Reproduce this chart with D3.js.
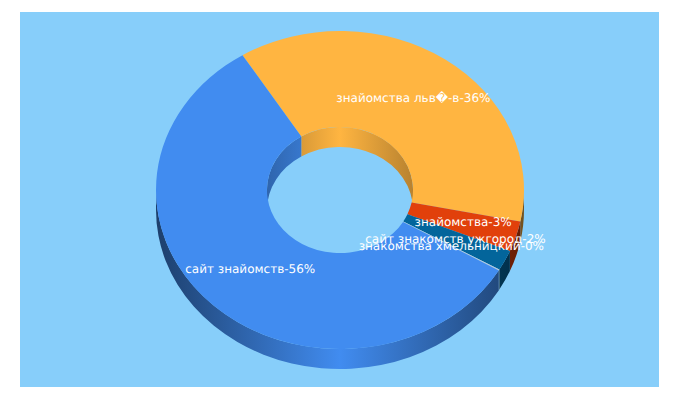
<!DOCTYPE html>
<html>
<head>
<meta charset="utf-8">
<style>
    body { margin: 0; background: #fff; }
    svg { display: block; }
    text { font-family: "DejaVu Sans", sans-serif; font-size: 12px; fill: #fff; text-rendering: geometricPrecision; }
</style>
</head>
<body>
<svg width="680" height="400"></svg>
<script src="https://d3js.org/d3.v7.min.js"></script>
<script>
    var labels = ["знайомства льв\uFFFD-в-36%", "знайомства-3%", "сайт знакомств ужгород-2%", "знакомства хмельницкий-0%", "сайт знайомств-56%"];
    var values = [36, 3, 2, 0.1, 56];
    var colors = ["#ffb541", "#e1400b", "#03659b", "#b8c8d8", "#418cf0"];

    var width = 680, height = 400,
        cx = 340, cy = 190,
        rx = 184, ry = 159,
        holeRatio = 0.397,
        depth = 20,
        startDeg = 328;

    var svg = d3.select("svg");
    svg.append("rect").attr("x", 20).attr("y", 12).attr("width", 639).attr("height", 375).attr("fill", "#87cefa");

    var pie = d3.pie().sort(null)
        .startAngle(startDeg * Math.PI / 180)
        .endAngle((startDeg + 360) * Math.PI / 180);
    var slices = pie(values);
    slices.forEach(function (d, i) { d.color = colors[i]; d.label = labels[i]; });

    // gradients for the side walls, dark at the edges and bright in the middle
    var defs = svg.append("defs");
    function addGradient(id, color, x1, x2, edge) {
        var g = defs.append("linearGradient").attr("id", id)
            .attr("gradientUnits", "userSpaceOnUse")
            .attr("x1", x1).attr("x2", x2).attr("y1", 0).attr("y2", 0);
        var mid = d3.rgb(color), dark = d3.rgb(mid.r * edge, mid.g * edge, mid.b * edge);
        g.append("stop").attr("offset", "0%").attr("stop-color", dark);
        g.append("stop").attr("offset", "50%").attr("stop-color", mid);
        g.append("stop").attr("offset", "100%").attr("stop-color", dark);
    }
    slices.forEach(function (d, i) {
        addGradient("outer-" + i, d.color, cx - rx, cx + rx, 0.45);
        addGradient("inner-" + i, d.color, cx - rx * holeRatio, cx + rx * holeRatio, 0.72);
    });

    function px(a, r) { return cx + rx * r * Math.sin(a); }
    function py(a, r) { return cy - ry * r * Math.cos(a); }

    // wall between angles a0 and a1 at radius ratio r
    function wall(a0, a1, r) {
        var big = a1 - a0 > Math.PI ? 1 : 0;
        return "M" + px(a0, r) + "," + py(a0, r) +
            "A" + rx * r + "," + ry * r + " 0 " + big + " 1 " + px(a1, r) + "," + py(a1, r) +
            "L" + px(a1, r) + "," + (py(a1, r) + depth) +
            "A" + rx * r + "," + ry * r + " 0 " + big + " 0 " + px(a0, r) + "," + (py(a0, r) + depth) + "Z";
    }

    // part of a slice inside a visible window, also trying the next turns
    function visible(d, lo, hi) {
        var out = [];
        [-2, 0, 2, 4].forEach(function (k) {
            var a0 = Math.max(d.startAngle, lo + k * Math.PI), a1 = Math.min(d.endAngle, hi + k * Math.PI);
            if (a1 > a0) out.push([a0, a1]);
        });
        return out;
    }

    var walls = svg.append("g");
    slices.forEach(function (d, i) {
        // outer wall shows on the lower half
        visible(d, Math.PI / 2, Math.PI * 3 / 2).forEach(function (w) {
            walls.append("path").attr("d", wall(w[0], w[1], 1)).attr("fill", "url(#outer-" + i + ")");
        });
        // inner wall shows on the upper half of the hole
        visible(d, -Math.PI / 2, Math.PI / 2).forEach(function (w) {
            walls.append("path").attr("d", wall(w[0], w[1], holeRatio)).attr("fill", "url(#inner-" + i + ")");
        });
    });

    var arc = d3.arc().innerRadius(rx * holeRatio).outerRadius(rx);
    svg.append("g")
        .attr("transform", "translate(" + cx + "," + cy + ") scale(1," + (ry / rx) + ")")
        .selectAll("path")
        .data(slices)
        .enter().append("path")
        .attr("d", arc)
        .attr("fill", function (d) { return d.color; });

    svg.append("g").selectAll("text")
        .data(slices)
        .enter().append("text")
        .attr("text-anchor", "middle")
        .attr("dy", "0.3em")
        .attr("x", function (d) { return px((d.startAngle + d.endAngle) / 2, 0.7); })
        .attr("y", function (d) { return py((d.startAngle + d.endAngle) / 2, 0.7); })
        .text(function (d) { return d.label; });
</script>
</body>
</html>
